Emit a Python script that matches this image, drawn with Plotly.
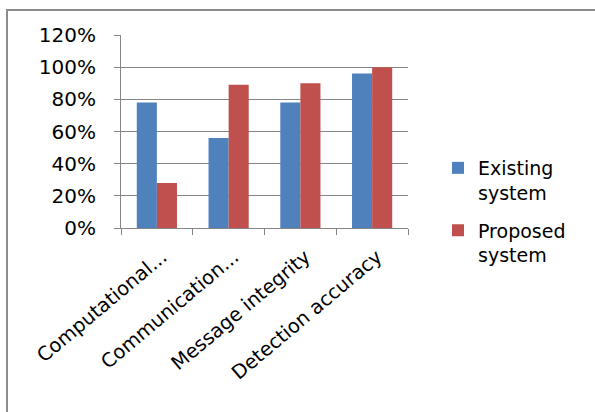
import plotly.graph_objects as go

# Category labels along the x axis
categories = ["Computational...", "Communication...", "Message integrity", "Detection accuracy"]

# Share of each criterion met (fraction of 1)
existing_system = [0.78, 0.56, 0.78, 0.96]
proposed_system = [0.28, 0.89, 0.90, 1.00]

series_names = ["Existing<br>system", "Proposed<br>system"]
series_colors = ["#4F81BD", "#C0504D"]

W, H = 595, 412
L, R, T, B = 121, 187, 35, 184
plot_w = W - L - R
plot_h = H - T - B

def px_x(p):
    return (p - L) / plot_w

def px_y(p):
    return (H - B - p) / plot_h

font_family = "DejaVu Sans"
text_color = "#000000"
grid_color = "#868686"

fig = go.Figure()
for i, (name, vals, col) in enumerate(zip(series_names, [existing_system, proposed_system], series_colors)):
    fig.add_trace(go.Bar(
        x=categories, y=vals, name=name, legendgroup=f"g{i}",
        marker=dict(color=col, line=dict(width=0)),
    ))

fig.update_layout(
    width=W, height=H,
    margin=dict(l=L, r=R, t=T, b=B, autoexpand=False),
    paper_bgcolor="white", plot_bgcolor="white",
    barmode="group", bargap=0.44, bargroupgap=0,
    font=dict(family=font_family, size=20, color=text_color),
    legend=dict(
        x=px_x(438), y=px_y(149), xanchor="left", yanchor="top",
        font=dict(family=font_family, size=19, color=text_color),
        valign="top", tracegroupgap=10, itemwidth=30,
        bgcolor="rgba(0,0,0,0)",
    ),
    showlegend=True,
)

fig.update_xaxes(
    type="category", tickson="boundaries", ticks="outside", ticklen=6,
    tickcolor=grid_color, showline=True, linecolor=grid_color, linewidth=1,
    tickangle=-40, tickfont=dict(family=font_family, size=19.5, color=text_color),
    ticklabelstandoff=9, ticklabelshift=5,
    showgrid=False, fixedrange=True,
)
fig.update_yaxes(
    range=[0, 1.2], dtick=0.2, tick0=0, tickformat=".0%",
    ticks="outside", ticklen=6, tickcolor=grid_color,
    showline=True, linecolor=grid_color, linewidth=1,
    showgrid=True, gridcolor=grid_color, gridwidth=1,
    tickfont=dict(family=font_family, size=20, color=text_color),
    ticklabelstandoff=14, zeroline=False, fixedrange=True,
)

# Outer chart frame
fig.add_shape(
    type="rect", xref="paper", yref="paper",
    x0=px_x(7), x1=px_x(620), y0=px_y(430), y1=px_y(10),
    line=dict(color="#8C8C8C", width=2), fillcolor="rgba(0,0,0,0)", layer="below",
)

fig.write_html("out.html")
